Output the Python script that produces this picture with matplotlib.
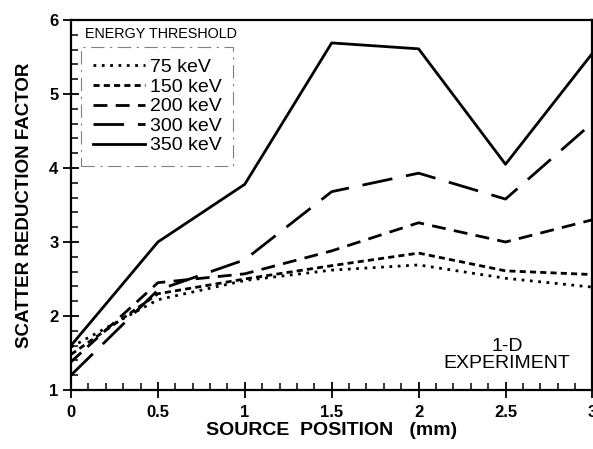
import matplotlib.pyplot as plt

plt.rcParams['font.family'] = ['Liberation Sans', 'DejaVu Sans']

# source position (mm)
pos = [0, 0.5, 1, 1.5, 2, 2.5, 3]

# scatter reduction factor per energy threshold
srf_75 = [1.58, 2.22, 2.48, 2.62, 2.69, 2.51, 2.39]
srf_150 = [1.48, 2.30, 2.50, 2.68, 2.85, 2.61, 2.56]
srf_200 = [1.38, 2.45, 2.57, 2.88, 3.26, 3.00, 3.30]
srf_300 = [1.20, 2.35, 2.76, 3.68, 3.93, 3.58, 4.61]
srf_350 = [1.60, 3.00, 3.78, 5.69, 5.61, 4.05, 5.55]

labels = ['75 keV', '150 keV', '200 keV', '300 keV', '350 keV']
series = [srf_75, srf_150, srf_200, srf_300, srf_350]
styles = [(0, (1, 2)), (0, (2.2, 1.5)), (0, (5, 3)), (0, (11, 5)), '-']

fig = plt.figure(figsize=(5.93, 4.49), dpi=100)
ax = fig.add_axes([0.1197, 0.1314, 0.8793, 0.8241])

for y, lab, ls in zip(series, labels, styles):
    ax.plot(pos, y, color='black', lw=2.0, linestyle=ls, label=lab)

ax.set_xlim(0, 3)
ax.set_ylim(1, 6)
ax.set_xticks([0, 0.5, 1, 1.5, 2, 2.5, 3])
ax.set_xticklabels(['0', '0.5', '1', '1.5', '2', '2.5', '3'])
ax.set_xticks([i / 10 for i in range(31)], minor=True)
ax.set_yticks([1, 2, 3, 4, 5, 6])
ax.set_yticks([1 + i / 5 for i in range(26)], minor=True)
ax.tick_params(which='major', direction='inout', length=12, width=1.3,
               labelsize=12, pad=3)
ax.tick_params(axis='x', which='major', pad=5)
ax.tick_params(which='minor', direction='in', length=5, width=1.1)
for t in ax.get_xticklabels() + ax.get_yticklabels():
    t.set_fontweight('bold')
for s in ax.spines.values():
    s.set_linewidth(1.6)

ax.set_xlabel('SOURCE  POSITION   (mm)', fontsize=14, fontweight='bold',
              labelpad=1)
ax.set_ylabel('SCATTER REDUCTION FACTOR', fontsize=13.5, fontweight='bold',
              labelpad=12)

leg = ax.legend(loc='upper left', bbox_to_anchor=(0.019, 0.927),
                fontsize=14, handlelength=2.7, handletextpad=0.25,
                labelspacing=0.1, borderpad=0.6, borderaxespad=0,
                fancybox=False, framealpha=1)
leg.get_frame().set_edgecolor('0.5')
leg.get_frame().set_linewidth(0.8)
leg.get_frame().set_linestyle((0, (12, 5, 2, 5)))
ax.text(0.027, 0.962, 'ENERGY THRESHOLD', transform=ax.transAxes,
        fontsize=10.4, va='center', ha='left')

ax.text(2.51, 1.47, '1-D\nEXPERIMENT', fontsize=14, ha='center',
        va='center', linespacing=1.0)

fig.savefig('out.png', dpi=100)
